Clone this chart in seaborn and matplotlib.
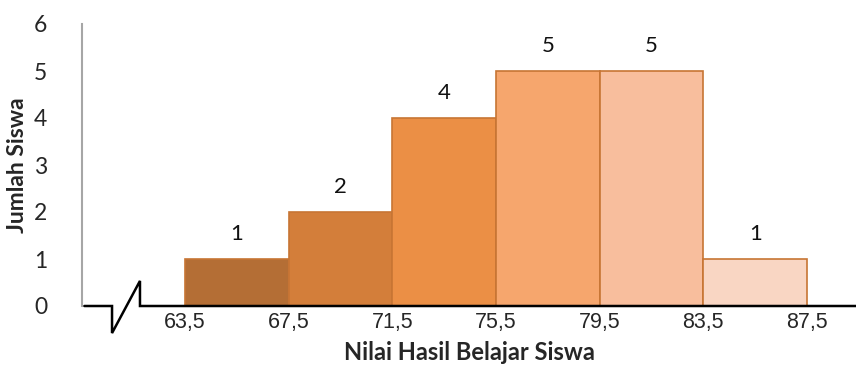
import matplotlib
matplotlib.use("Agg")
import matplotlib.pyplot as plt
import seaborn as sns
import numpy as np
import pandas as pd

# Class boundaries and frequencies
bin_edges = [63.5, 67.5, 71.5, 75.5, 79.5, 83.5, 87.5]
frequencies = [1, 2, 4, 5, 5, 1]
tick_labels = ["63,5", "67,5", "71,5", "75,5", "79,5", "83,5", "87,5"]
bar_colors = ["#B46E35", "#D37E3A", "#EB8F45", "#F6A66D", "#F8BE9D", "#F9D6C3"]

midpoints = [(a + b) / 2 for a, b in zip(bin_edges[:-1], bin_edges[1:])]
df = pd.DataFrame({"nilai": midpoints, "jumlah": frequencies})

sns.set_theme(style="white")
plt.rcParams["font.family"] = ["Lato", "DejaVu Sans"]

fig = plt.figure(figsize=(8.56, 3.67), dpi=100)
ax = fig.add_axes([82 / 856, 61 / 367, 774 / 856, 282 / 367])

sns.histplot(data=df, x="nilai", weights="jumlah", bins=bin_edges,
             ax=ax, edgecolor="#C77534", linewidth=1.2, alpha=1)
for patch, color in zip(ax.patches, bar_colors):
    patch.set_facecolor(color)

# Value labels above bars
for x, v in zip(midpoints, frequencies):
    ax.text(x, v + 0.53, str(v), ha="center", va="center", fontsize=16, color="#111111")

ax.set_xlim(59.53, 89.39)
ax.set_ylim(0, 6)
ax.set_xticks(bin_edges)
ax.set_xticklabels(tick_labels, family=["Liberation Sans"], fontsize=15.5)
ax.set_yticks(range(7))
ax.set_yticklabels([str(i) for i in range(7)], fontsize=16.5)
ax.tick_params(axis="y", length=0, pad=25)
ax.tick_params(axis="x", length=0, pad=4)

ax.set_xlabel("Nilai Hasil Belajar Siswa", fontsize=17, fontweight="bold", labelpad=6)
ax.set_ylabel("Jumlah Siswa", fontsize=16.5, fontweight="bold", labelpad=4)

for side in ["top", "right", "bottom"]:
    ax.spines[side].set_visible(False)
ax.spines["left"].set_color("#A6A6A6")
ax.spines["left"].set_linewidth(1.5)

# Horizontal axis with a break symbol
bx0, bx1 = 0.0388, 0.0749
ax.plot([0.003, bx0, bx0, bx1, bx1, 1.0],
        [0, 0, -0.096, 0.089, 0, 0],
        transform=ax.transAxes, color="black", lw=1.8, clip_on=False,
        solid_joinstyle="miter")

fig.savefig("out.png", dpi=100)
